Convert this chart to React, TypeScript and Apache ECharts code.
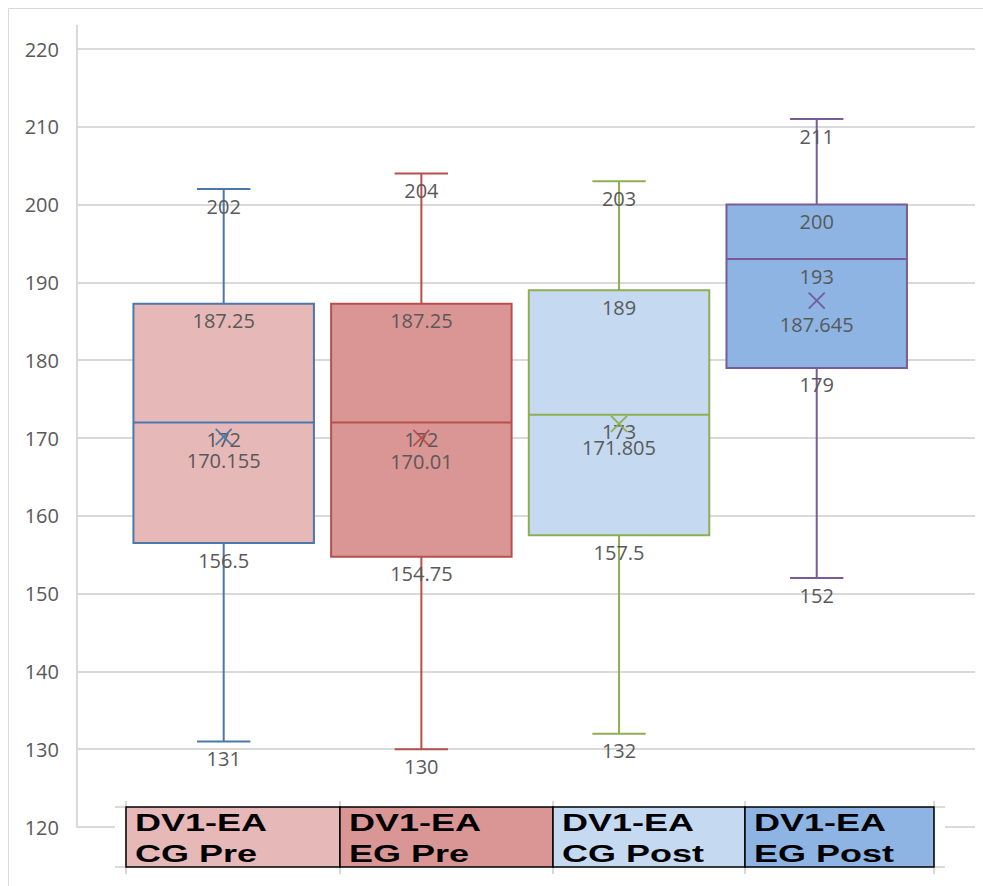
import React, { useEffect, useRef } from "react";
import * as echarts from "echarts";

// ---- data ----
const categories = ["DV1-EA CG Pre", "DV1-EA EG Pre", "DV1-EA CG Post", "DV1-EA EG Post"];
const tableLine1 = ["DV1-EA", "DV1-EA", "DV1-EA", "DV1-EA"];
const tableLine2 = ["CG Pre", "EG Pre", "CG Post", "EG Post"];
const minValues = [131, 130, 132, 152];
const q1Values = [156.5, 154.75, 157.5, 179];
const medianValues = [172, 172, 173, 193];
const q3Values = [187.25, 187.25, 189, 200];
const maxValues = [202, 204, 203, 211];
const meanValues = [170.155, 170.01, 171.805, 187.645];
const yMin = 120;
const yMax = 220;
const yStep = 10;

// ---- styles ----
const borderColors = ["#4c77ad", "#b84f4c", "#8fae54", "#785c98"];
const fillColors = ["#e6b8b7", "#da9694", "#c5d9f1", "#8db4e2"];
const labelColor = "#595959";
const labelFont = '20px "Open Sans"';
const gridColor = "#d9d9d9";
// table layout (cell edges in px)
const cellEdges = [126, 340, 553, 745, 934];
const tableTop = 807;
const tableBottom = 867;

export default function App() {
  const ref = useRef<HTMLDivElement>(null);

  useEffect(() => {
    if (!ref.current) return;
    const chart = echarts.init(ref.current, undefined, { renderer: "svg" });

    const data = categories.map((_, i) => [
      i,
      minValues[i],
      q1Values[i],
      medianValues[i],
      q3Values[i],
      maxValues[i],
      meanValues[i],
    ]);

    const renderItem = (params: any, api: any) => {
      const i = params.dataIndex;
      const xi = api.value(0);
      const cx = api.coord([xi, yMin])[0];
      const band = api.size([1, 0])[0];
      const bw = band * 0.913;
      const cw = band * 0.27;
      const Y = (v: number) => api.coord([xi, v])[1];
      const vMin = api.value(1),
        vQ1 = api.value(2),
        vMed = api.value(3),
        vQ3 = api.value(4),
        vMax = api.value(5),
        vMean = api.value(6);
      const stroke = borderColors[i];
      const lineStyle = { stroke, lineWidth: 2, fill: "none" };
      const children: any[] = [];
      // whiskers
      children.push({ type: "line", shape: { x1: cx, y1: Y(vMax), x2: cx, y2: Y(vMin) }, style: lineStyle });
      children.push({ type: "line", shape: { x1: cx - cw / 2, y1: Y(vMax), x2: cx + cw / 2, y2: Y(vMax) }, style: lineStyle });
      children.push({ type: "line", shape: { x1: cx - cw / 2, y1: Y(vMin), x2: cx + cw / 2, y2: Y(vMin) }, style: lineStyle });
      // box
      children.push({
        type: "rect",
        shape: { x: cx - bw / 2, y: Y(vQ3), width: bw, height: Y(vQ1) - Y(vQ3) },
        style: { fill: fillColors[i], stroke, lineWidth: 2 },
      });
      // median
      children.push({ type: "line", shape: { x1: cx - bw / 2, y1: Y(vMed), x2: cx + bw / 2, y2: Y(vMed) }, style: lineStyle });
      // labels
      const lbl = (v: number, off: number) => ({
        type: "text",
        style: {
          text: String(v),
          x: cx,
          y: Y(v) + off,
          fill: labelColor,
          font: labelFont,
          align: "center",
          verticalAlign: "middle",
        },
      });
      children.push(lbl(vMax, 17));
      children.push(lbl(vQ3, 17));
      children.push(lbl(vMed, 17));
      children.push(lbl(vQ1, 17));
      children.push(lbl(vMin, 17));
      children.push(lbl(vMean, 24));
      // mean marker X
      const my = Y(vMean);
      const s = 8;
      const xStyle = { stroke, lineWidth: 1.8, fill: "none" };
      children.push({ type: "line", shape: { x1: cx - s, y1: my - s, x2: cx + s, y2: my + s }, style: xStyle });
      children.push({ type: "line", shape: { x1: cx - s, y1: my + s, x2: cx + s, y2: my - s }, style: xStyle });
      return { type: "group", children };
    };

    const graphic: any[] = [];
    // outer frame
    graphic.push({
      type: "rect",
      z: 100,
      shape: { x: 8.5, y: 8.5, width: 1000, height: 1000 },
      style: { fill: "none", stroke: gridColor, lineWidth: 1 },
    });
    // y axis line
    graphic.push({
      type: "line",
      z: 100,
      shape: { x1: 77, y1: 25, x2: 77, y2: 828 },
      style: { stroke: gridColor, lineWidth: 2 },
    });
    // white background behind table
    graphic.push({
      type: "rect",
      z: 100,
      shape: { x: 115, y: 798, width: 830, height: 78 },
      style: { fill: "#ffffff" },
    });
    // grey table ticks
    cellEdges.forEach((x) => {
      graphic.push({
        type: "line",
        z: 101,
        shape: { x1: x, y1: 801, x2: x, y2: 874 },
        style: { stroke: gridColor, lineWidth: 2 },
      });
    });
    [tableTop, tableBottom].forEach((y) => {
      graphic.push({ type: "line", z: 101, shape: { x1: 115, y1: y, x2: 126, y2: y }, style: { stroke: gridColor, lineWidth: 2 } });
      graphic.push({ type: "line", z: 101, shape: { x1: 934, y1: y, x2: 945, y2: y }, style: { stroke: gridColor, lineWidth: 2 } });
    });
    // cells
    categories.forEach((_, i) => {
      const x0 = cellEdges[i];
      const x1 = cellEdges[i + 1];
      graphic.push({
        type: "rect",
        z: 102,
        shape: { x: x0, y: tableTop, width: x1 - x0, height: tableBottom - tableTop },
        style: { fill: fillColors[i], stroke: "#000000", lineWidth: 1.5 },
      });
      [tableLine1[i], tableLine2[i]].forEach((t, k) => {
        graphic.push({
          type: "text",
          z: 103,
          x: x0 + 9,
          y: k === 0 ? 822 : 853.5,
          scaleX: 1.5,
          style: {
            text: t,
            x: 0,
            y: 0,
            fill: "#000000",
            font: 'bold 24px "Liberation Sans"',
            align: "left",
            verticalAlign: "middle",
          },
        });
      });
    });

    chart.setOption({
      animation: false,
      backgroundColor: "#ffffff",
      grid: [
        { left: 77, right: 8, top: 49, bottom: 59 },
        { left: 124.85, width: 790.7, top: 49, bottom: 59 },
      ],
      xAxis: [
        { type: "value", gridIndex: 0, show: false, min: 0, max: 1 },
        { type: "category", gridIndex: 1, data: categories, show: false },
      ],
      yAxis: [
        {
          type: "value",
          gridIndex: 0,
          min: yMin,
          max: yMax,
          interval: yStep,
          axisLine: { show: false },
          axisTick: { show: false },
          axisLabel: { color: labelColor, fontSize: 20, fontFamily: "Open Sans", margin: 18 },
          splitLine: { lineStyle: { color: gridColor, width: 2 } },
        },
        {
          type: "value",
          gridIndex: 1,
          min: yMin,
          max: yMax,
          interval: yStep,
          show: false,
        },
      ],
      series: [
        {
          type: "custom",
          xAxisIndex: 1,
          yAxisIndex: 1,
          renderItem,
          encode: { x: 0, y: [1, 2, 3, 4, 5, 6] },
          data,
          z: 5,
        },
      ],
      graphic,
    });

    return () => chart.dispose();
  }, []);

  return (
    <div
      ref={ref}
      style={{ position: "fixed", left: 0, top: 0, width: 983, height: 886 }}
    />
  );
}
